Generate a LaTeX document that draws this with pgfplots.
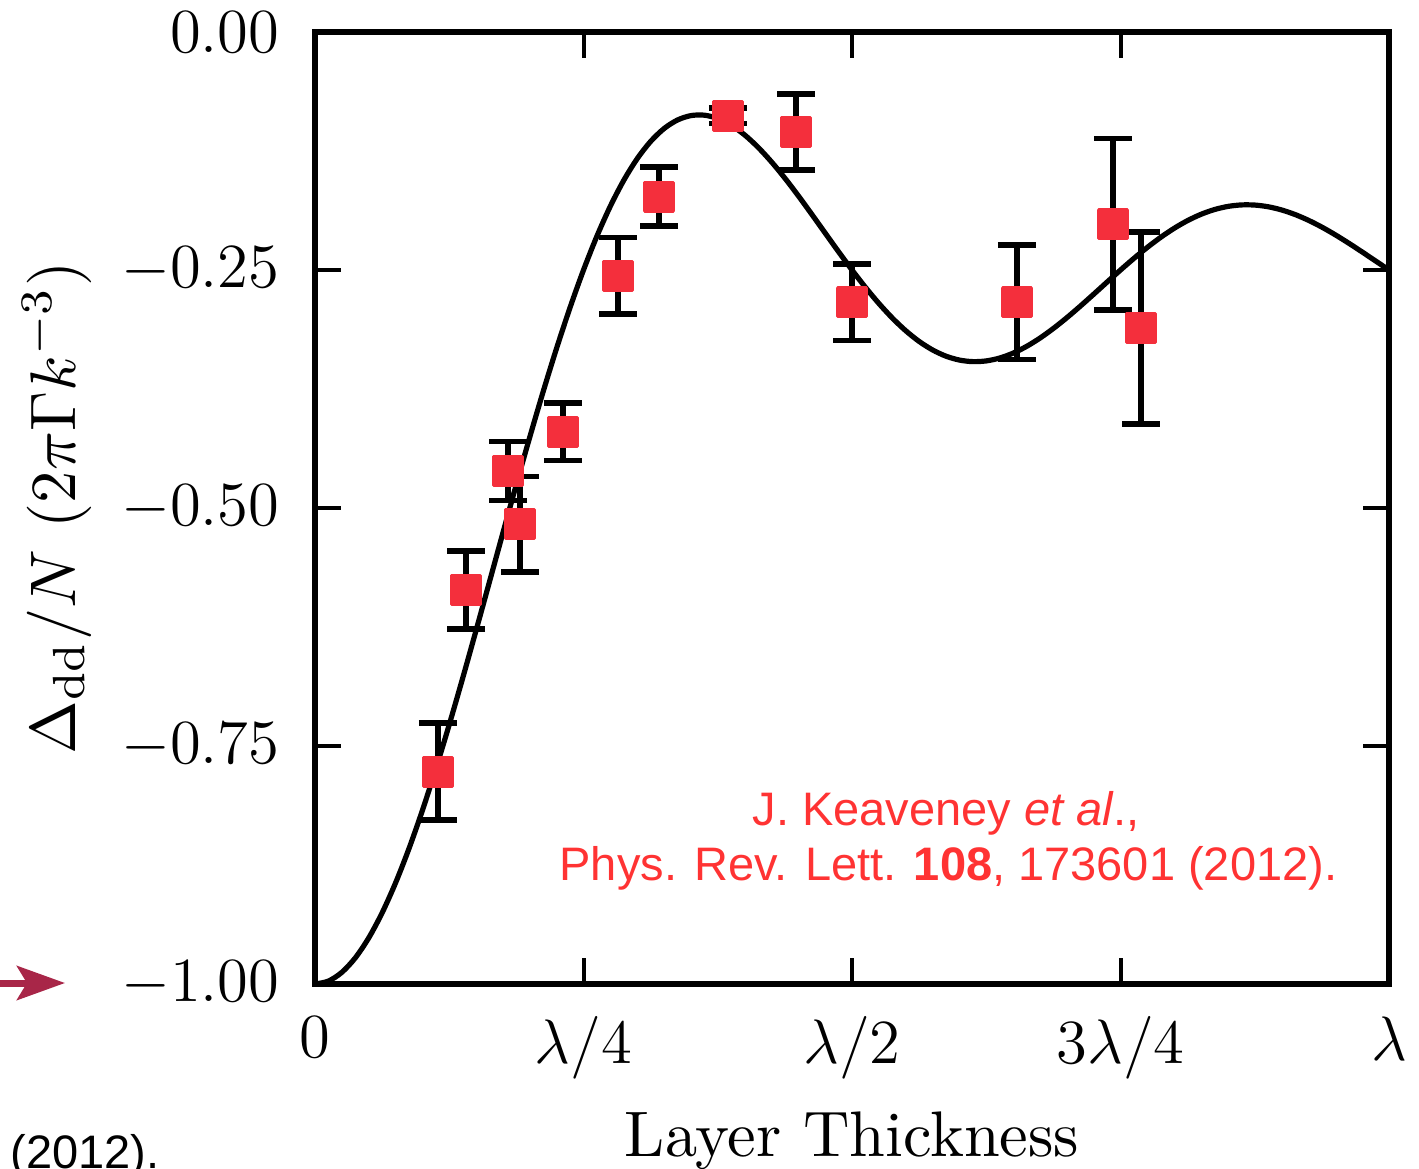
\RequirePackage{fix-cm}
\documentclass[border=0pt]{standalone}
\usepackage{graphicx}
\usepackage{fontspec}
\newfontfamily\arialfont{Liberation Sans}
\usepackage{pgfplots}
\usepackage{pgfplotstable}
\pgfplotsset{compat=1.18}
\usetikzlibrary{arrows.meta}

\definecolor{markred}{RGB}{244,47,60}
\definecolor{citered}{RGB}{255,51,51}
\definecolor{arrowred}{RGB}{168,38,72}

% axis labels are set at 10pt and enlarged
\newcommand{\biglabel}[1]{\scalebox{1.61}{\fontsize{10}{12}\selectfont #1}}

% measured shift vs. layer thickness (in units of lambda)
\pgfplotstableread{
x      y       err
0.1145 -0.777  0.051
0.1406 -0.586  0.041
0.1797 -0.461  0.031
0.1909 -0.517  0.050
0.2309 -0.420  0.030
0.2821 -0.256  0.040
0.3203 -0.173  0.031
0.3845 -0.088  0.008
0.4479 -0.105  0.040
0.5000 -0.284  0.040
0.6536 -0.284  0.060
0.7430 -0.202  0.090
0.7690 -0.311  0.101
}\measured

% theory curve
\pgfplotstableread{
x      y
0.0000 -1.00000
0.0125 -0.99692
0.0250 -0.98772
0.0375 -0.97255
0.0500 -0.95162
0.0625 -0.92524
0.0750 -0.89380
0.0875 -0.85775
0.1000 -0.81762
0.1125 -0.77398
0.1250 -0.72746
0.1375 -0.67871
0.1500 -0.62841
0.1625 -0.57725
0.1750 -0.52591
0.1875 -0.47508
0.2000 -0.42540
0.2125 -0.37751
0.2250 -0.33197
0.2375 -0.28931
0.2500 -0.25000
0.2625 -0.21443
0.2750 -0.18293
0.2875 -0.15576
0.3000 -0.13306
0.3125 -0.11495
0.3250 -0.10143
0.3375 -0.09244
0.3500 -0.08782
0.3625 -0.08738
0.3750 -0.09085
0.3875 -0.09788
0.4000 -0.10810
0.4125 -0.12108
0.4250 -0.13639
0.4375 -0.15354
0.4500 -0.17204
0.4625 -0.19142
0.4750 -0.21117
0.4875 -0.23085
0.5000 -0.25000
0.5125 -0.26822
0.5250 -0.28513
0.5375 -0.30041
0.5500 -0.31378
0.5625 -0.32503
0.5750 -0.33397
0.5875 -0.34052
0.6000 -0.34460
0.6125 -0.34624
0.6250 -0.34549
0.6375 -0.34247
0.6500 -0.33733
0.6625 -0.33027
0.6750 -0.32153
0.6875 -0.31139
0.7000 -0.30012
0.7125 -0.28803
0.7250 -0.27544
0.7375 -0.26266
0.7500 -0.25000
0.7625 -0.23776
0.7750 -0.22620
0.7875 -0.21559
0.8000 -0.20615
0.8125 -0.19806
0.8250 -0.19147
0.8375 -0.18650
0.8500 -0.18322
0.8625 -0.18165
0.8750 -0.18179
0.8875 -0.18358
0.9000 -0.18693
0.9125 -0.19172
0.9250 -0.19780
0.9375 -0.20498
0.9500 -0.21307
0.9625 -0.22185
0.9750 -0.23108
0.9875 -0.24055
1.0000 -0.25000
}\theory

\begin{document}
\begin{tikzpicture}
\begin{axis}[
  at={(78.75pt,46pt)}, anchor=south west,
  scale only axis, width=268.5pt, height=238pt,
  xmin=0, xmax=1, ymin=-1, ymax=0,
  xtick={0,0.25,0.5,0.75,1},
  xticklabels={$0$,$\lambda/4$,$\lambda/2$,$3\lambda/4$,$\lambda$},
  ytick={-1,-0.75,-0.5,-0.25,0},
  yticklabels={$-1.00$,$-0.75$,$-0.50$,$-0.25$,$0.00$},
  tick align=inside,
  major tick length=6.4pt,
  major tick style={line width=1pt, black},
  axis line style={line width=1.4pt},
  tick label style={font=\fontsize{15.7}{19}\selectfont},
  xticklabel style={inner sep=0pt, yshift=-8pt},
  yticklabel style={inner sep=0pt, xshift=-8.7pt},
  xlabel={\biglabel{Layer Thickness}},
  ylabel={\biglabel{$\Delta_{\mathrm{dd}}/N\ (2\pi\Gamma k^{-3})$}},
  xlabel style={at={([yshift=-43pt]axis description cs:0.5,0)}, anchor=base, inner sep=0pt},
  ylabel style={at={([xshift=-60pt]axis description cs:0,0.5)}, anchor=base, inner sep=0pt},
]
\addplot[black, line width=1.3pt, smooth] table[x=x, y=y] {\theory};
\addplot[only marks, mark=square*, mark size=3.6pt,
  mark options={fill=markred, draw=markred, line width=0.8pt, line join=round},
  error bars/.cd, y dir=both, y explicit,
  error mark=|,
  error bar style={line width=1.4pt, black},
  error mark options={line width=1.4pt, black, mark size=4.75pt}]
  table[x=x, y=y, y error=err] {\measured};
\end{axis}

\node[anchor=base, inner sep=0pt, text=citered, font=\arialfont\fontsize{11.75}{14}\selectfont]
  at (236.5pt,85.75pt) {J. Keaveney \textit{et al}.,};
\node[anchor=base, inner sep=0pt, text=citered, font=\arialfont\fontsize{11.75}{14}\selectfont]
  at (237.1pt,72pt) {Phys. Rev. Lett. \textbf{108}, 173601 (2012).};

\draw[arrowred, line width=1.75pt, -{Stealth[length=12pt, width=8.5pt, inset=2.5pt]}]
  (-3pt,46.25pt) -- (16.25pt,46.25pt);
\node[anchor=base west, inner sep=0pt, font=\arialfont\fontsize{11.75}{14}\selectfont]
  at (2.5pt,-0.2pt) {(2012).};

\pgfresetboundingbox
\useasboundingbox (0,0) rectangle (354.75pt,292pt);
\end{tikzpicture}
\end{document}
